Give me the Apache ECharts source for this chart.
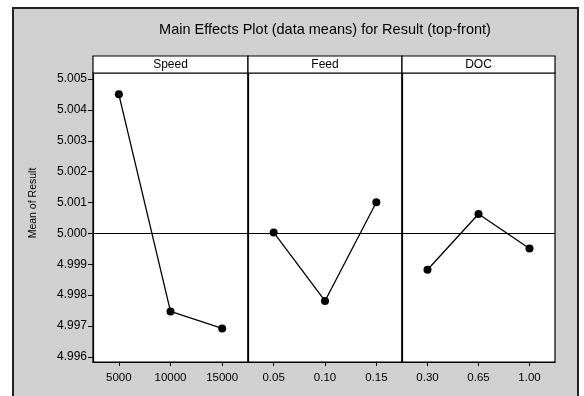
<!DOCTYPE html>
<html>
<head>
<meta charset="utf-8">
<script src="https://cdn.jsdelivr.net/npm/echarts@6/dist/echarts.min.js"></script>
<style>
html,body{margin:0;padding:0;background:#fff;}
#c{width:584px;height:396px;}
</style>
</head>
<body>
<div id="c"></div>
<script>
// ---- data ----
var panelNames = ['Speed', 'Feed', 'DOC'];
var speedLevels = ['5000', '10000', '15000'];
var feedLevels = ['0.05', '0.10', '0.15'];
var docLevels = ['0.30', '0.65', '1.00'];
var speedMeans = [5.00451, 4.99747, 4.99692];
var feedMeans = [5.00003, 4.99781, 5.00101];
var docMeans = [4.99882, 5.00063, 4.99951];
var grandMean = 4.99963;
var yTicks = [4.996, 4.997, 4.998, 4.999, 5.000, 5.001, 5.002, 5.003, 5.004, 5.005];
var yMin = 4.99583, yMax = 5.0052;

// ---- layout ----
var FONT = 'Liberation Sans, Arial, sans-serif';
var plotTop = 73, plotH = 289, stripH = 17;
var panels = [
  {left: 93, width: 155, cats: speedLevels, vals: speedMeans},
  {left: 248, width: 154, cats: feedLevels, vals: feedMeans},
  {left: 402, width: 153, cats: docLevels, vals: docMeans}
];

var chart = echarts.init(document.getElementById('c'), null, {renderer: 'canvas'});

var grids = [], xAxes = [], yAxes = [], series = [], graphics = [];

graphics.push({
  type: 'rect', z: -10, silent: true,
  shape: {x: 13, y: 8, width: 565, height: 400},
  style: {fill: '#d0d0d0', stroke: '#222', lineWidth: 2}
});
graphics.push({
  type: 'text', z: 10,
  x: 325, y: 30,
  style: {text: 'Main Effects Plot (data means) for Result (top-front)', font: '14.5px ' + FONT, fill: '#000', align: 'center', verticalAlign: 'middle'}
});
graphics.push({
  type: 'text', z: 10,
  x: 33, y: 203, rotation: Math.PI / 2,
  style: {text: 'Mean of Result', font: '10.5px ' + FONT, fill: '#000', align: 'center', verticalAlign: 'middle'}
});

panels.forEach(function (p, i) {
  grids.push({left: p.left, top: plotTop, width: p.width, height: plotH, show: true,
    backgroundColor: '#fff', borderColor: '#000', borderWidth: 1.2, containLabel: false});
  xAxes.push({
    type: 'category', gridIndex: i, data: p.cats, boundaryGap: true,
    axisLine: {show: true, lineStyle: {color: '#000', width: 1.2}},
    axisTick: {show: true, alignWithLabel: true, length: 4, lineStyle: {color: '#000'}},
    axisLabel: {color: '#000', fontSize: 11.5, fontFamily: FONT, margin: 10},
    splitLine: {show: false}
  });
  yAxes.push({
    type: 'value', gridIndex: i, min: yMin, max: yMax,
    axisLine: {show: true, lineStyle: {color: '#000', width: 1.2}},
    axisTick: {show: i === 0, length: 5, customValues: yTicks, lineStyle: {color: '#000'}},
    axisLabel: {show: i === 0, customValues: yTicks, color: '#000', fontSize: 12, fontFamily: FONT, margin: 6,
      formatter: function (v) { return v.toFixed(3); }},
    splitLine: {show: false}
  });
  series.push({
    type: 'line', xAxisIndex: i, yAxisIndex: i, data: p.vals,
    symbol: 'circle', symbolSize: 8,
    lineStyle: {color: '#000', width: 1.3},
    itemStyle: {color: '#000'},
    animation: false,
    markLine: {
      silent: true, symbol: 'none', label: {show: false},
      lineStyle: {color: '#000', type: 'solid', width: 1.2},
      data: [{yAxis: grandMean}]
    }
  });
  graphics.push({
    type: 'rect', z: 5,
    shape: {x: p.left, y: plotTop - stripH, width: p.width, height: stripH},
    style: {fill: '#fff', stroke: '#000', lineWidth: 1.2}
  });
  graphics.push({
    type: 'text', z: 6,
    x: p.left + p.width / 2, y: plotTop - stripH / 2,
    style: {text: panelNames[i], font: '12px ' + FONT, fill: '#000', align: 'center', verticalAlign: 'middle'}
  });
});

chart.setOption({
  animation: false,
  backgroundColor: '#fff',
  grid: grids,
  xAxis: xAxes,
  yAxis: yAxes,
  series: series,
  graphic: graphics
});
</script>
</body>
</html>
